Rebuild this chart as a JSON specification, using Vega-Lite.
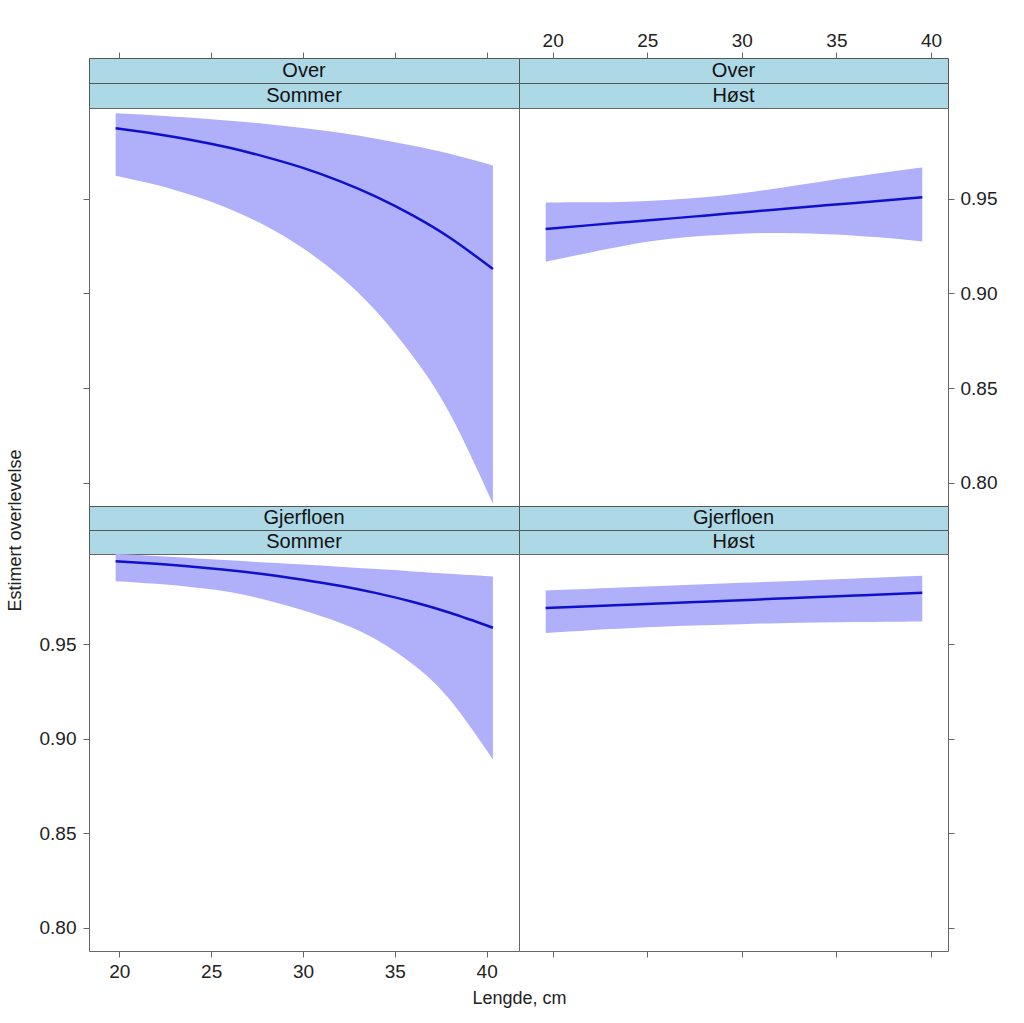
{
  "$schema": "https://vega.github.io/schema/vega-lite/v6.json",
  "padding": {"left": 5, "top": 30, "right": 5, "bottom": 5},
  "background": "white",
  "config": {
    "font": "Liberation Sans",
    "axis": {"labelFont": "Liberation Sans", "labelFontSize": 19, "labelColor": "#222", "tickColor": "#666", "tickSize": 6, "tickWidth": 1, "domain": false, "grid": false, "titleFont": "Liberation Sans", "titleFontSize": 18, "titleFontWeight": "normal", "titleColor": "#222"},
    "view": {"stroke": "#666"}
  },
  "datasets": {
    "curves": [
      {"site": "Over", "season": "Sommer", "len": 19.8, "fit": 0.9871, "lower": 0.9621, "upper": 0.9950},
      {"site": "Over", "season": "Sommer", "len": 22, "fit": 0.9841, "lower": 0.9573, "upper": 0.9939},
      {"site": "Over", "season": "Sommer", "len": 24, "fit": 0.9808, "lower": 0.9516, "upper": 0.9926},
      {"site": "Over", "season": "Sommer", "len": 26, "fit": 0.9768, "lower": 0.9445, "upper": 0.9911},
      {"site": "Over", "season": "Sommer", "len": 28, "fit": 0.9719, "lower": 0.9354, "upper": 0.9894},
      {"site": "Over", "season": "Sommer", "len": 30, "fit": 0.9662, "lower": 0.9238, "upper": 0.9872},
      {"site": "Over", "season": "Sommer", "len": 32, "fit": 0.9592, "lower": 0.9091, "upper": 0.9847},
      {"site": "Over", "season": "Sommer", "len": 34, "fit": 0.9509, "lower": 0.8904, "upper": 0.9816},
      {"site": "Over", "season": "Sommer", "len": 36, "fit": 0.9410, "lower": 0.8666, "upper": 0.9779},
      {"site": "Over", "season": "Sommer", "len": 38, "fit": 0.9293, "lower": 0.8365, "upper": 0.9736},
      {"site": "Over", "season": "Sommer", "len": 40.34, "fit": 0.9129, "lower": 0.7890, "upper": 0.9674},
      {"site": "Over", "season": "Høst", "len": 19.63, "fit": 0.9340, "lower": 0.9167, "upper": 0.9480},
      {"site": "Over", "season": "Høst", "len": 22, "fit": 0.9360, "lower": 0.9216, "upper": 0.9481},
      {"site": "Over", "season": "Høst", "len": 24, "fit": 0.9377, "lower": 0.9255, "upper": 0.9484},
      {"site": "Over", "season": "Høst", "len": 26, "fit": 0.9393, "lower": 0.9285, "upper": 0.9493},
      {"site": "Over", "season": "Høst", "len": 28, "fit": 0.9410, "lower": 0.9304, "upper": 0.9507},
      {"site": "Over", "season": "Høst", "len": 30, "fit": 0.9427, "lower": 0.9315, "upper": 0.9528},
      {"site": "Over", "season": "Høst", "len": 32, "fit": 0.9444, "lower": 0.9319, "upper": 0.9556},
      {"site": "Over", "season": "Høst", "len": 34, "fit": 0.9461, "lower": 0.9314, "upper": 0.9586},
      {"site": "Over", "season": "Høst", "len": 36, "fit": 0.9477, "lower": 0.9304, "upper": 0.9616},
      {"site": "Over", "season": "Høst", "len": 38, "fit": 0.9494, "lower": 0.9289, "upper": 0.9644},
      {"site": "Over", "season": "Høst", "len": 39.54, "fit": 0.9507, "lower": 0.9273, "upper": 0.9664},
      {"site": "Gjerfloen", "season": "Sommer", "len": 19.8, "fit": 0.9940, "lower": 0.9834, "upper": 0.9979},
      {"site": "Gjerfloen", "season": "Sommer", "len": 22, "fit": 0.9926, "lower": 0.9820, "upper": 0.9967},
      {"site": "Gjerfloen", "season": "Sommer", "len": 24, "fit": 0.9911, "lower": 0.9802, "upper": 0.9956},
      {"site": "Gjerfloen", "season": "Sommer", "len": 26, "fit": 0.9892, "lower": 0.9777, "upper": 0.9945},
      {"site": "Gjerfloen", "season": "Sommer", "len": 28, "fit": 0.9870, "lower": 0.9735, "upper": 0.9933},
      {"site": "Gjerfloen", "season": "Sommer", "len": 30, "fit": 0.9842, "lower": 0.9680, "upper": 0.9922},
      {"site": "Gjerfloen", "season": "Sommer", "len": 32, "fit": 0.9810, "lower": 0.9614, "upper": 0.9910},
      {"site": "Gjerfloen", "season": "Sommer", "len": 34, "fit": 0.9771, "lower": 0.9525, "upper": 0.9898},
      {"site": "Gjerfloen", "season": "Sommer", "len": 36, "fit": 0.9724, "lower": 0.9394, "upper": 0.9886},
      {"site": "Gjerfloen", "season": "Sommer", "len": 38, "fit": 0.9667, "lower": 0.9207, "upper": 0.9873},
      {"site": "Gjerfloen", "season": "Sommer", "len": 40.34, "fit": 0.9588, "lower": 0.8891, "upper": 0.9859},
      {"site": "Gjerfloen", "season": "Høst", "len": 19.63, "fit": 0.9692, "lower": 0.9560, "upper": 0.9785},
      {"site": "Gjerfloen", "season": "Høst", "len": 22, "fit": 0.9702, "lower": 0.9575, "upper": 0.9794},
      {"site": "Gjerfloen", "season": "Høst", "len": 24, "fit": 0.9710, "lower": 0.9585, "upper": 0.9802},
      {"site": "Gjerfloen", "season": "Høst", "len": 26, "fit": 0.9718, "lower": 0.9594, "upper": 0.9810},
      {"site": "Gjerfloen", "season": "Høst", "len": 28, "fit": 0.9726, "lower": 0.9601, "upper": 0.9818},
      {"site": "Gjerfloen", "season": "Høst", "len": 30, "fit": 0.9734, "lower": 0.9607, "upper": 0.9826},
      {"site": "Gjerfloen", "season": "Høst", "len": 32, "fit": 0.9742, "lower": 0.9612, "upper": 0.9833},
      {"site": "Gjerfloen", "season": "Høst", "len": 34, "fit": 0.9750, "lower": 0.9615, "upper": 0.9841},
      {"site": "Gjerfloen", "season": "Høst", "len": 36, "fit": 0.9758, "lower": 0.9618, "upper": 0.9849},
      {"site": "Gjerfloen", "season": "Høst", "len": 38, "fit": 0.9767, "lower": 0.9620, "upper": 0.9857},
      {"site": "Gjerfloen", "season": "Høst", "len": 39.54, "fit": 0.9773, "lower": 0.9621, "upper": 0.9863}
    ]
  },
  "spacing": 0,
  "bounds": "flush",
  "columns": 2,
  "concat": [
    {"width": 430, "height": 25, "data": {"values": [{"label": "Over"}]}, "mark": {"type": "text", "fontSize": 20, "color": "#111", "font": "Liberation Sans"}, "encoding": {"text": {"field": "label", "type": "nominal"}}, "view": {"fill": "#ADD8E6", "stroke": "#555"}},
    {"width": 429, "height": 25, "data": {"values": [{"label": "Over"}]}, "mark": {"type": "text", "fontSize": 20, "color": "#111", "font": "Liberation Sans"}, "encoding": {"text": {"field": "label", "type": "nominal"}}, "view": {"fill": "#ADD8E6", "stroke": "#555"}},
    {"width": 430, "height": 25, "data": {"values": [{"label": "Sommer"}]}, "mark": {"type": "text", "fontSize": 20, "color": "#111", "font": "Liberation Sans"}, "encoding": {"text": {"field": "label", "type": "nominal"}}, "view": {"fill": "#ADD8E6", "stroke": "#555"}},
    {"width": 429, "height": 25, "data": {"values": [{"label": "Høst"}]}, "mark": {"type": "text", "fontSize": 20, "color": "#111", "font": "Liberation Sans"}, "encoding": {"text": {"field": "label", "type": "nominal"}}, "view": {"fill": "#ADD8E6", "stroke": "#555"}},
    {
      "width": 430, "height": 398,
      "data": {"name": "curves"},
      "transform": [{"filter": "datum.site === 'Over' && datum.season === 'Sommer'"}],
      "view": {"fill": "white", "stroke": "#666"},
      "encoding": {"x": {"field": "len", "type": "quantitative", "scale": {"domain": [18.35, 41.76], "nice": false, "zero": false}, "axis": {"orient": "top", "offset": 50, "values": [20, 25, 30, 35, 40], "labels": false, "title": null}}},
      "layer": [
        {"mark": {"type": "area", "color": "#B0B0FA", "opacity": 1, "interpolate": "natural", "clip": true}, "encoding": {"y": {"field": "lower", "type": "quantitative", "scale": {"domain": [0.7878, 0.9978], "nice": false, "zero": false}, "axis": {"orient": "left", "values": [0.8, 0.85, 0.9, 0.95], "labels": false, "title": null}}, "y2": {"field": "upper"}}},
        {"mark": {"type": "line", "color": "#1010CC", "strokeWidth": 2.5, "interpolate": "natural", "clip": true}, "encoding": {"y": {"field": "fit", "type": "quantitative", "axis": {"orient": "left", "values": [0.8, 0.85, 0.9, 0.95], "labels": false, "title": null}}}}
      ]
    },
    {
      "width": 429, "height": 398,
      "data": {"name": "curves"},
      "transform": [{"filter": "datum.site === 'Over' && datum.season === 'Høst'"}],
      "view": {"fill": "white", "stroke": "#666"},
      "encoding": {"x": {"field": "len", "type": "quantitative", "scale": {"domain": [18.22, 40.9], "nice": false, "zero": false}, "axis": {"orient": "top", "offset": 50, "values": [20, 25, 30, 35, 40], "labelPadding": 2, "title": null}}},
      "layer": [
        {"mark": {"type": "area", "color": "#B0B0FA", "opacity": 1, "interpolate": "natural", "clip": true}, "encoding": {"y": {"field": "lower", "type": "quantitative", "scale": {"domain": [0.7878, 0.9978], "nice": false, "zero": false}, "axis": {"orient": "right", "values": [0.8, 0.85, 0.9, 0.95], "format": ".2f", "labelPadding": 6, "title": null}}, "y2": {"field": "upper"}}},
        {"mark": {"type": "line", "color": "#1010CC", "strokeWidth": 2.5, "interpolate": "natural", "clip": true}, "encoding": {"y": {"field": "fit", "type": "quantitative", "axis": {"orient": "right", "values": [0.8, 0.85, 0.9, 0.95], "format": ".2f", "labelPadding": 6, "title": null}}}}
      ]
    },
    {"width": 430, "height": 24, "data": {"values": [{"label": "Gjerfloen"}]}, "mark": {"type": "text", "fontSize": 20, "color": "#111", "font": "Liberation Sans"}, "encoding": {"text": {"field": "label", "type": "nominal"}}, "view": {"fill": "#ADD8E6", "stroke": "#555"}},
    {"width": 429, "height": 24, "data": {"values": [{"label": "Gjerfloen"}]}, "mark": {"type": "text", "fontSize": 20, "color": "#111", "font": "Liberation Sans"}, "encoding": {"text": {"field": "label", "type": "nominal"}}, "view": {"fill": "#ADD8E6", "stroke": "#555"}},
    {"width": 430, "height": 24, "data": {"values": [{"label": "Sommer"}]}, "mark": {"type": "text", "fontSize": 20, "color": "#111", "font": "Liberation Sans"}, "encoding": {"text": {"field": "label", "type": "nominal"}}, "view": {"fill": "#ADD8E6", "stroke": "#555"}},
    {"width": 429, "height": 24, "data": {"values": [{"label": "Høst"}]}, "mark": {"type": "text", "fontSize": 20, "color": "#111", "font": "Liberation Sans"}, "encoding": {"text": {"field": "label", "type": "nominal"}}, "view": {"fill": "#ADD8E6", "stroke": "#555"}},
    {
      "width": 430, "height": 397,
      "data": {"name": "curves"},
      "transform": [{"filter": "datum.site === 'Gjerfloen' && datum.season === 'Sommer'"}],
      "view": {"fill": "white", "stroke": "#666"},
      "encoding": {"x": {"field": "len", "type": "quantitative", "scale": {"domain": [18.35, 41.76], "nice": false, "zero": false}, "axis": {"orient": "bottom", "values": [20, 25, 30, 35, 40], "labelPadding": 5, "title": "Lengde, cm", "titleX": 430, "titlePadding": 8}}},
      "layer": [
        {"mark": {"type": "area", "color": "#B0B0FA", "opacity": 1, "interpolate": "natural", "clip": true}, "encoding": {"y": {"field": "lower", "type": "quantitative", "scale": {"domain": [0.7878, 0.9978], "nice": false, "zero": false}, "axis": {"orient": "left", "values": [0.8, 0.85, 0.9, 0.95], "format": ".2f", "labelPadding": 7, "title": "Estimert overlevelse", "titleY": -24, "titlePadding": 15}}, "y2": {"field": "upper"}}},
        {"mark": {"type": "line", "color": "#1010CC", "strokeWidth": 2.5, "interpolate": "natural", "clip": true}, "encoding": {"y": {"field": "fit", "type": "quantitative", "axis": {"orient": "left", "values": [0.8, 0.85, 0.9, 0.95], "format": ".2f", "labelPadding": 7, "title": "Estimert overlevelse", "titleY": -24, "titlePadding": 15}}}}
      ]
    },
    {
      "width": 429, "height": 397,
      "data": {"name": "curves"},
      "transform": [{"filter": "datum.site === 'Gjerfloen' && datum.season === 'Høst'"}],
      "view": {"fill": "white", "stroke": "#666"},
      "encoding": {"x": {"field": "len", "type": "quantitative", "scale": {"domain": [18.22, 40.9], "nice": false, "zero": false}, "axis": {"orient": "bottom", "values": [20, 25, 30, 35, 40], "labels": false, "title": null}}},
      "layer": [
        {"mark": {"type": "area", "color": "#B0B0FA", "opacity": 1, "interpolate": "natural", "clip": true}, "encoding": {"y": {"field": "lower", "type": "quantitative", "scale": {"domain": [0.7878, 0.9978], "nice": false, "zero": false}, "axis": {"orient": "right", "values": [0.8, 0.85, 0.9, 0.95], "labels": false, "title": null}}, "y2": {"field": "upper"}}},
        {"mark": {"type": "line", "color": "#1010CC", "strokeWidth": 2.5, "interpolate": "natural", "clip": true}, "encoding": {"y": {"field": "fit", "type": "quantitative", "axis": {"orient": "right", "values": [0.8, 0.85, 0.9, 0.95], "labels": false, "title": null}}}}
      ]
    }
  ]
}
